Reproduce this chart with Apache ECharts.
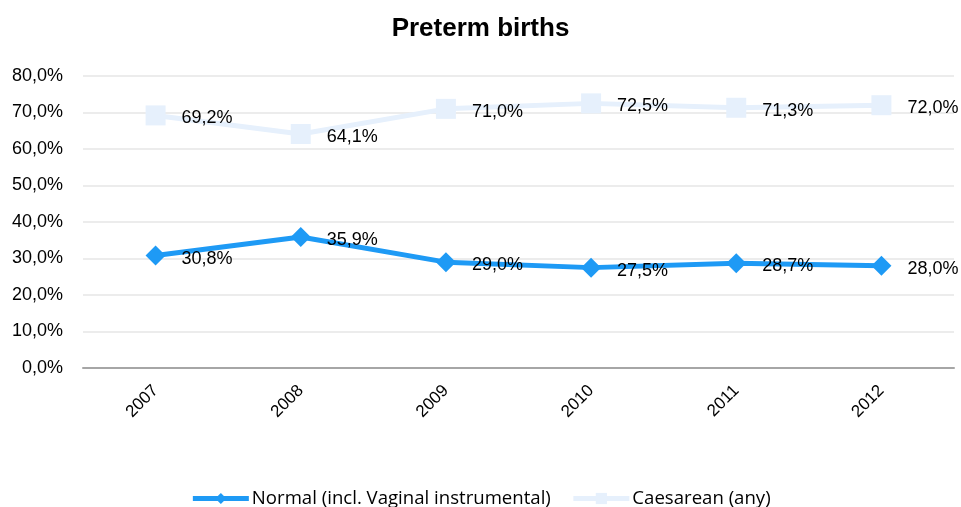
<!DOCTYPE html>
<html>
<head>
<meta charset="utf-8">
<script src="https://cdn.jsdelivr.net/npm/echarts@6/dist/echarts.min.js"></script>
<style>
  html, body { margin: 0; padding: 0; background: #fff; }
  #chart { width: 961px; height: 507px; }
</style>
</head>
<body>
<div id="chart"></div>
<script>
// 資料
const years = ['2007', '2008', '2009', '2010', '2011', '2012'];
const normal = [30.8, 35.9, 29.0, 27.5, 28.7, 28.0];
const caesarean = [69.2, 64.1, 71.0, 72.5, 71.3, 72.0];
const yTicks = [0, 10, 20, 30, 40, 50, 60, 70, 80];

const FONT = '"Liberation Sans", "DejaVu Sans", sans-serif';
const fmt = v => v.toFixed(1).replace('.', ',') + '%';

const chart = echarts.init(document.getElementById('chart'));

// 數值標籤樣式
const valueLabel = {
  show: true,
  position: 'right',
  distance: 16,
  offset: [0, 3],
  color: '#000',
  fontSize: 18,
  fontFamily: FONT,
  formatter: p => fmt(p.value),
};

const option = {
  animation: false,
  title: {
    text: 'Preterm births',
    left: 'center',
    top: 11,
    textStyle: { fontSize: 26, fontWeight: 'bold', color: '#000', fontFamily: FONT },
  },
  grid: { left: 83, right: 7, top: 76, bottom: 139 },
  legend: {
    top: 484,
    left: 'center',
    itemWidth: 56,
    itemHeight: 14,
    itemGap: 20,
    lineStyle: { width: 5 },
    textStyle: {
      fontSize: 18.6,
      color: '#000',
      fontFamily: '"Open Sans", "Liberation Sans", sans-serif',
      padding: [0, 0, 0, -2],
    },
    data: ['Normal (incl. Vaginal instrumental)', 'Caesarean (any)'],
  },
  xAxis: {
    type: 'category',
    data: years,
    boundaryGap: true,
    axisLine: { lineStyle: { color: '#a6a6a6', width: 2 } },
    axisTick: { show: false },
    axisLabel: {
      rotate: 45,
      margin: 20,
      fontSize: 17,
      color: '#000',
      fontFamily: FONT,
    },
  },
  yAxis: {
    type: 'value',
    min: yTicks[0],
    max: yTicks[yTicks.length - 1],
    interval: 10,
    axisLine: { show: false },
    axisTick: { show: false },
    splitLine: { lineStyle: { color: '#ececec', width: 2 } },
    axisLabel: {
      margin: 20,
      fontSize: 18,
      color: '#000',
      fontFamily: FONT,
      formatter: v => fmt(v),
    },
  },
  series: [
    {
      name: 'Normal (incl. Vaginal instrumental)',
      type: 'line',
      data: normal,
      symbol: 'diamond',
      symbolSize: 20,
      lineStyle: { color: '#1e9af5', width: 5 },
      itemStyle: { color: '#1e9af5' },
      label: valueLabel,
      z: 3,
    },
    {
      name: 'Caesarean (any)',
      type: 'line',
      data: caesarean,
      symbol: 'rect',
      symbolSize: 20,
      lineStyle: { color: '#e6f0fc', width: 5 },
      itemStyle: { color: '#e6f0fc' },
      label: valueLabel,
      z: 2,
    },
  ],
};

chart.setOption(option);
</script>
</body>
</html>
